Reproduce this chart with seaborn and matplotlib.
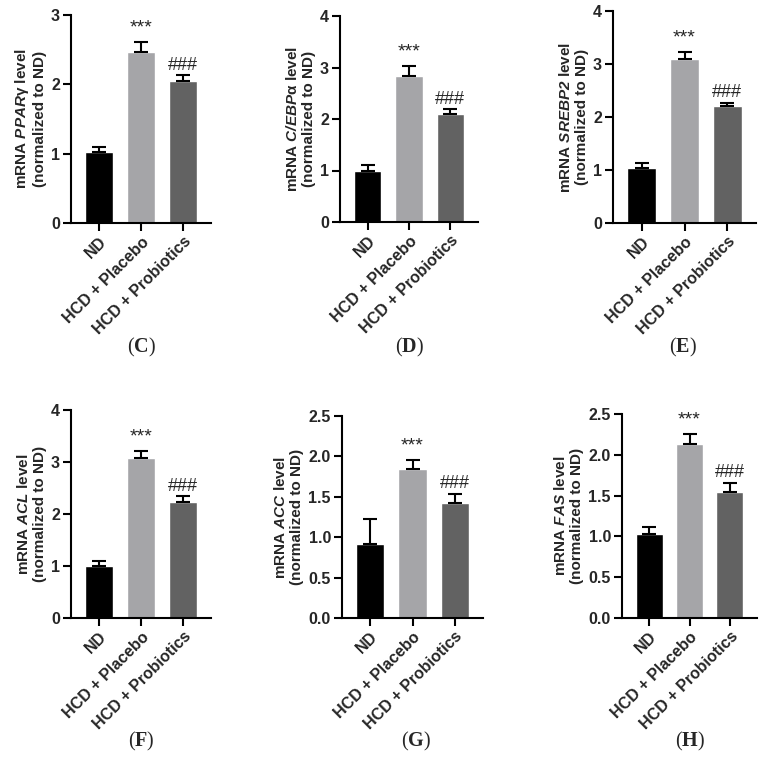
import matplotlib
matplotlib.use("Agg")
import matplotlib.pyplot as plt
import seaborn as sns
import pandas as pd

sns.set_style("white")
plt.rcParams['font.family'] = ['Liberation Sans', 'DejaVu Sans']
plt.rcParams['mathtext.fontset'] = 'custom'
# gene names: bold italic sans (non-letters in \mathit fall back to rm)
plt.rcParams['mathtext.rm'] = 'Liberation Sans:bold:italic'
plt.rcParams['mathtext.it'] = 'Liberation Sans:bold:italic'
# panel letters: serif
plt.rcParams['mathtext.sf'] = 'Liberation Serif'
plt.rcParams['mathtext.bf'] = 'Liberation Serif:bold'

groups = ["ND", "HCD + Placebo", "HCD + Probiotics"]
colors = ["#000000", "#a5a5a8", "#626262"]

genes = ["PPAR", "C/EBP", "SREBP2", "ACL", "ACC", "FAS"]
gene_suffix = ["γ", "α", "", "", "", ""]
letters = ["C", "D", "E", "F", "G", "H"]

pparg = [1.02, 2.47, 2.05]
pparg_err = [0.08, 0.14, 0.08]
cebpa = [1.00, 2.84, 2.09]
cebpa_err = [0.11, 0.18, 0.10]
srebp2 = [1.03, 3.09, 2.20]
srebp2_err = [0.10, 0.14, 0.07]
acl = [1.00, 3.08, 2.24]
acl_err = [0.10, 0.14, 0.10]
acc = [0.92, 1.85, 1.42]
acc_err = [0.30, 0.10, 0.12]
fas = [1.03, 2.13, 1.54]
fas_err = [0.08, 0.12, 0.12]

values = [pparg, cebpa, srebp2, acl, acc, fas]
errors = [pparg_err, cebpa_err, srebp2_err, acl_err, acc_err, fas_err]
ymax = [3, 4, 4, 4, 2.5, 2.5]
yticks = [[0, 1, 2, 3], [0, 1, 2, 3, 4], [0, 1, 2, 3, 4], [0, 1, 2, 3, 4],
          [0, 0.5, 1.0, 1.5, 2.0, 2.5], [0, 0.5, 1.0, 1.5, 2.0, 2.5]]
ytick_fmt = ["{:.0f}", "{:.0f}", "{:.0f}", "{:.0f}", "{:.1f}", "{:.1f}"]

W, H = 764, 776
# axes boxes in pixels: left, right, top, bottom
boxes = [(71, 211, 15, 223), (340, 478, 16, 222), (613, 756, 11, 223),
         (71, 211, 410, 618), (342, 483, 416, 618), (622, 757, 414, 618)]
label_pos = [(141, 347), (409, 347), (683, 347), (141, 741), (416, 741), (690, 741)]

fig = plt.figure(figsize=(W / 100, H / 100), dpi=100)

for i in range(6):
    l, r, t, b = boxes[i]
    ax = fig.add_axes([l / W, 1 - b / H, (r - l) / W, (b - t) / H])
    df = pd.DataFrame({"group": groups, "value": values[i]})
    sns.barplot(data=df, x="group", y="value", hue="group", palette=colors,
                width=0.667, legend=False, ax=ax, saturation=1)
    ax.errorbar(range(3), values[i], yerr=[[0, 0, 0], errors[i]], fmt="none",
                ecolor="black", elinewidth=1.5, capsize=5, capthick=1.5)
    top1 = values[i][1] + errors[i][1]
    top2 = values[i][2] + errors[i][2]
    ax.annotate("***", (1, top1), xytext=(0, 4), textcoords="offset points",
                ha="center", va="bottom", fontsize=14)
    ax.annotate("###", (2, top2), xytext=(0, 1), textcoords="offset points",
                ha="center", va="bottom", fontsize=13)
    ax.set_xlim(-0.667, 2.667)
    ax.set_ylim(0, ymax[i])
    ax.set_yticks(yticks[i])
    ax.set_yticklabels([ytick_fmt[i].format(v) for v in yticks[i]],
                       fontweight="bold", fontsize=11.5)
    ax.set_xticks(range(3))
    ax.set_xticklabels(groups, rotation=45, ha="right", rotation_mode="anchor",
                       fontweight="bold", fontsize=11.5)
    ax.set_xlabel("")
    ax.set_ylabel("mRNA $\\mathit{" + genes[i] + "}$" + gene_suffix[i] + " level\n(normalized to ND)",
                  fontweight="bold", fontsize=11, labelpad=3)
    sns.despine(ax=ax)
    for s in ["left", "bottom"]:
        ax.spines[s].set_linewidth(1.5)
        ax.spines[s].set_color("black")
    ax.tick_params(axis="both", length=6, width=1.5, color="black", pad=2,
                   left=True, bottom=True)
    x, y = label_pos[i]
    fig.text(x / W, 1 - y / H, "$\\mathsf{(}\\mathbf{" + letters[i] + "}\\mathsf{)}$",
             ha="center", va="center", fontsize=14.5)

fig.savefig("out.png", dpi=100)
